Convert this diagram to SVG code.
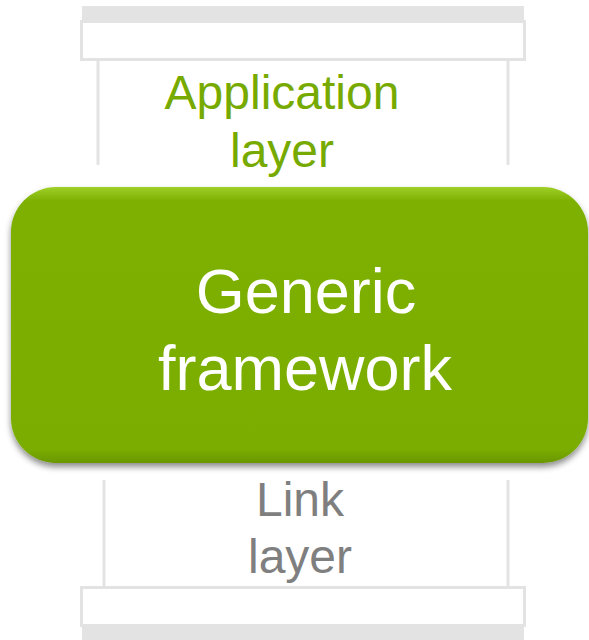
<svg xmlns="http://www.w3.org/2000/svg" width="589" height="640" viewBox="0 0 589 640">
<style>
.frame{fill:#ffffff;stroke:#e3e3e3;stroke-width:3}
.bar{fill:#e3e3e3}
.rail{stroke:#e3e3e3;stroke-width:3;fill:none}
.lbl{font-family:"Liberation Sans",Arial,sans-serif;text-anchor:middle}
</style>
<defs>
<linearGradient id="gl" x1="0" y1="0" x2="0" y2="1">
<stop offset="0" stop-color="#9fd02a"/>
<stop offset="0.05" stop-color="#7db000"/>
<stop offset="0.95" stop-color="#7aad00"/>
<stop offset="1" stop-color="#6a9700"/>
</linearGradient>
<filter id="sh" x="-10%" y="-10%" width="120%" height="130%">
<feGaussianBlur in="SourceAlpha" stdDeviation="3"/>
<feOffset dx="0" dy="4" result="b"/>
<feFlood flood-color="#000" flood-opacity="0.45"/>
<feComposite in2="b" operator="in"/>
<feMerge><feMergeNode/><feMergeNode in="SourceGraphic"/></feMerge>
</filter>
</defs>
<g id="app-layer">
<rect class="bar" x="82" y="6" width="442" height="16"/>
<rect class="frame" x="81.5" y="21.5" width="443" height="38"/>
<line class="rail" x1="98" y1="60" x2="98" y2="165"/>
<line class="rail" x1="508" y1="60" x2="508" y2="165"/>
<text class="lbl" x="282" y="109" font-size="48" fill="#77aa00">Application</text>
<text class="lbl" x="282" y="167" font-size="48" fill="#77aa00">layer</text>
</g>
<g id="link-layer">
<line class="rail" x1="104" y1="480" x2="104" y2="587"/>
<line class="rail" x1="508" y1="480" x2="508" y2="587"/>
<rect class="bar" x="82" y="624" width="442" height="16"/>
<rect class="frame" x="81.5" y="587.5" width="443" height="38"/>
<text class="lbl" x="300" y="516" font-size="48" fill="#7f7f7f">Link</text>
<text class="lbl" x="300" y="573" font-size="48" fill="#7f7f7f">layer</text>
</g>
<g id="generic-framework" filter="url(#sh)">
<rect x="11" y="187" width="577" height="276" rx="45" ry="45" fill="url(#gl)"/>
<text class="lbl" x="306" y="313" font-size="63" fill="#ffffff">Generic</text>
<text class="lbl" x="305" y="390" font-size="63" fill="#ffffff">framework</text>
</g>
<g id="connectors"></g>
</svg>
